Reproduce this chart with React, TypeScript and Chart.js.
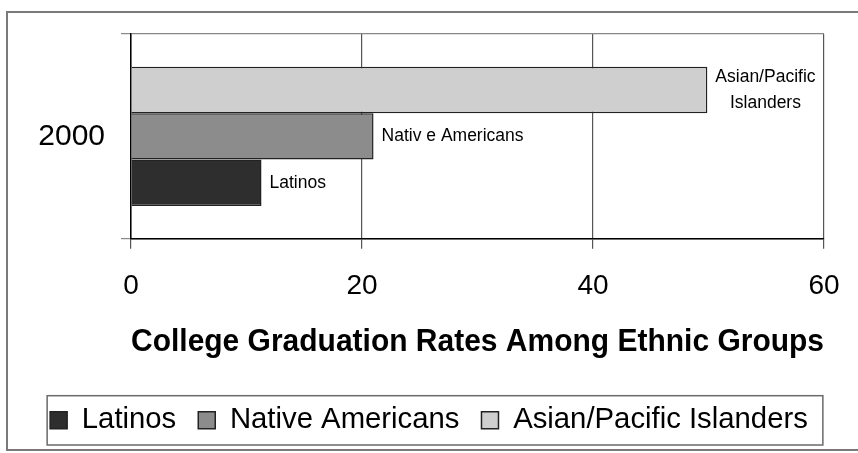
import React, { useEffect, useRef } from "react";
import { Chart, registerables } from "chart.js";

Chart.register(...registerables);

const categories = ["2000"];
const seriesNames = ["Asian/Pacific Islanders", "Native Americans", "Latinos"];
const asianValues = [49.9];
const nativeValues = [21.0];
const latinoValues = [11.3];
const barLabels = [["Asian/Pacific", "Islanders"], ["Nativ e Americans"], ["Latinos"]];
const xTicks = [0, 20, 40, 60];
const axisTitle = "College Graduation Rates Among Ethnic Groups";

const FONT = "'Liberation Sans', Arial, sans-serif";

const framePlugin = {
  id: "frame",
  beforeDraw(chart: any) {
    const ctx = chart.ctx;
    ctx.save();
    ctx.fillStyle = "#ffffff";
    ctx.fillRect(0, 0, chart.width, chart.height);
    ctx.strokeStyle = "#7a7a7a";
    ctx.lineWidth = 2;
    ctx.beginPath();
    ctx.moveTo(chart.width + 5, 12);
    ctx.lineTo(7, 12);
    ctx.lineTo(7, 450);
    ctx.lineTo(chart.width + 5, 450);
    ctx.stroke();
    ctx.restore();
  },
};

// center the legend on the whole canvas width rather than the padded area
const legendSpanPlugin = {
  id: "legendSpan",
  afterLayout(chart: any) {
    const lg = chart.legend;
    if (!lg) return;
    lg.left = 0;
    lg.right = chart.width;
    lg.width = chart.width;
  },
};

const legendBoxPlugin = {
  id: "legendBox",
  afterDraw(chart: any) {
    const lg = chart.legend;
    if (!lg || !lg.legendHitBoxes || !lg.legendHitBoxes.length) return;
    const boxes = lg.legendHitBoxes;
    let l = Infinity, r = -Infinity, t = Infinity, b = -Infinity;
    boxes.forEach((h: any) => {
      l = Math.min(l, h.left);
      r = Math.max(r, h.left + h.width);
      t = Math.min(t, h.top);
      b = Math.max(b, h.top + h.height);
    });
    const ctx = chart.ctx;
    ctx.save();
    ctx.strokeStyle = "#6a6a6a";
    ctx.lineWidth = 1.5;
    ctx.strokeRect(l - 3, t - 10, r - l + 18, b - t + 20);
    ctx.restore();
  },
};

const barLabelPlugin = {
  id: "barLabels",
  afterDatasetsDraw(chart: any) {
    const ctx = chart.ctx;
    ctx.save();
    ctx.font = `17.5px ${FONT}`;
    ctx.fillStyle = "#000";
    ctx.textBaseline = "middle";
    chart.data.datasets.forEach((ds: any, i: number) => {
      const meta = chart.getDatasetMeta(i);
      const el = meta.data[0];
      if (!el) return;
      const lines = barLabels[i];
      const widths = lines.map((s: string) => ctx.measureText(s).width);
      const maxW = Math.max(...widths);
      const x0 = el.x + 8;
      const lh = 26;
      const y0 = el.y - ((lines.length - 1) * lh) / 2;
      lines.forEach((s: string, k: number) => {
        ctx.textAlign = "center";
        ctx.fillText(s, x0 + maxW / 2, y0 + k * lh);
      });
    });
    ctx.restore();
  },
};

export default function App() {
  const ref = useRef<HTMLCanvasElement | null>(null);

  useEffect(() => {
    if (!ref.current) return;
    Chart.defaults.font.family = FONT;
    Chart.defaults.color = "#000";
    const chart = new Chart(ref.current, {
      type: "bar",
      data: {
        labels: categories,
        datasets: [
          {
            label: seriesNames[0],
            data: asianValues,
            backgroundColor: "#cfcfcf",
            borderColor: "#222",
            borderWidth: 1.5,
          },
          {
            label: seriesNames[1],
            data: nativeValues,
            backgroundColor: "#8c8c8c",
            borderColor: "#222",
            borderWidth: 1.5,
          },
          {
            label: seriesNames[2],
            data: latinoValues,
            backgroundColor: "#2e2e2e",
            borderColor: "#222",
            borderWidth: 1.5,
          },
        ],
      },
      options: {
        indexAxis: "y",
        responsive: true,
        maintainAspectRatio: false,
        animation: false,
        layout: { padding: { top: 34, right: 34, left: 0, bottom: 8 } },
        datasets: {
          bar: { categoryPercentage: 0.68, barPercentage: 1.0 },
        },
        scales: {
          x: {
            min: xTicks[0],
            max: xTicks[xTicks.length - 1],
            afterBuildTicks(scale: any) {
              scale.ticks = xTicks.map((v) => ({ value: v }));
            },
            afterFit(scale: any) {
              scale.height = 145;
              scale.paddingLeft = 0;
              scale.paddingRight = 0;
            },
            ticks: {
              font: { size: 28 },
              color: "#000",
              padding: 21,
            },
            grid: {
              color: "#555",
              lineWidth: 1.2,
              tickLength: 10,
              drawTicks: true,
            },
            border: { color: "#000", width: 1.5 },
            title: {
              display: true,
              text: axisTitle,
              font: { size: 31, weight: "bold" },
              color: "#000",
              padding: { top: 0, bottom: 23 },
            },
          },
          y: {
            afterFit(scale: any) {
              scale.width = 131;
              scale.paddingTop = 0;
              scale.paddingBottom = 0;
            },
            ticks: {
              font: { size: 30 },
              color: "#000",
              padding: 16,
            },
            grid: {
              color: "#888",
              lineWidth: 1.2,
              tickLength: 10,
              offset: true,
            },
            border: { color: "#000", width: 1.5 },
          },
        },
        plugins: {
          legend: {
            display: true,
            position: "bottom",
            reverse: true,
            labels: {
              font: { size: 29.3 },
              color: "#000",
              boxWidth: 17,
              boxHeight: 17,
              padding: 22,
            },
          },
          tooltip: { enabled: false },
          title: { display: false },
        },
      },
      plugins: [framePlugin, legendSpanPlugin, barLabelPlugin, legendBoxPlugin],
    } as any);
    return () => chart.destroy();
  }, []);

  return (
    <div
      style={{
        position: "fixed",
        left: 0,
        top: 0,
        width: 858,
        height: 453,
        background: "#fff",
      }}
    >
      <canvas ref={ref} />
    </div>
  );
}
